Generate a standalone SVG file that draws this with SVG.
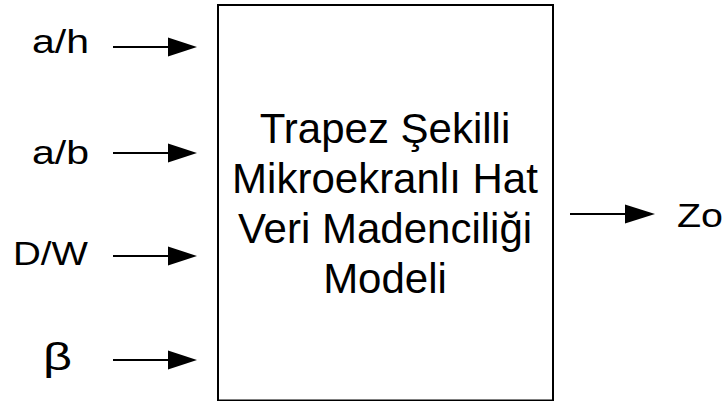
<svg xmlns="http://www.w3.org/2000/svg" width="728" height="401" viewBox="0 0 728 401">
  <style>
    .lbl { font-family: "Liberation Sans", Arial, sans-serif; font-size: 33px; fill: #000; }
    .box-text { font-family: "Liberation Sans", Arial, sans-serif; font-size: 42px; fill: #000; text-anchor: middle; }
    .wire { stroke: #000; stroke-width: 2; fill: none; }
    .head { fill: #000; }
  </style>
  <rect width="728" height="401" fill="#fff"/>

  <!-- model block -->
  <g id="model">
    <rect x="218" y="5" width="335" height="395.5" fill="#fff" stroke="#000" stroke-width="2"/>
    <text class="box-text" x="385" y="143">Trapez Şekilli</text>
    <text class="box-text" x="385" y="193">Mikroekranlı Hat</text>
    <text class="box-text" x="385" y="243">Veri Madenciliği</text>
    <text class="box-text" x="385" y="293">Modeli</text>
  </g>

  <!-- input labels -->
  <g id="in-ah"><text class="lbl" x="32" y="53" textLength="57" lengthAdjust="spacingAndGlyphs">a/h</text></g>
  <g id="in-ab"><text class="lbl" x="32" y="164" textLength="57" lengthAdjust="spacingAndGlyphs">a/b</text></g>
  <g id="in-dw"><text class="lbl" x="13" y="265" textLength="75" lengthAdjust="spacingAndGlyphs">D/W</text></g>
  <g id="in-beta"><text class="lbl" x="43" y="370" style="font-size:38px" textLength="29" lengthAdjust="spacingAndGlyphs">β</text></g>

  <!-- output label -->
  <g id="out-zo"><text class="lbl" x="677" y="227" textLength="46" lengthAdjust="spacingAndGlyphs">Zo</text></g>

  <!-- connectors -->
  <g id="connectors">
    <line class="wire" x1="113" y1="47" x2="170" y2="47"/>
    <polygon class="head" points="168,37.5 197,47 168,56.5"/>
    <line class="wire" x1="113" y1="153" x2="170" y2="153"/>
    <polygon class="head" points="168,143.5 197,153 168,162.5"/>
    <line class="wire" x1="113" y1="256" x2="170" y2="256"/>
    <polygon class="head" points="168,246.5 197,256 168,265.5"/>
    <line class="wire" x1="113" y1="360" x2="170" y2="360"/>
    <polygon class="head" points="168,350.5 197,360 168,369.5"/>
    <line class="wire" x1="570" y1="214" x2="627" y2="214"/>
    <polygon class="head" points="625,204.5 655,214 625,223.5"/>
  </g>
</svg>
